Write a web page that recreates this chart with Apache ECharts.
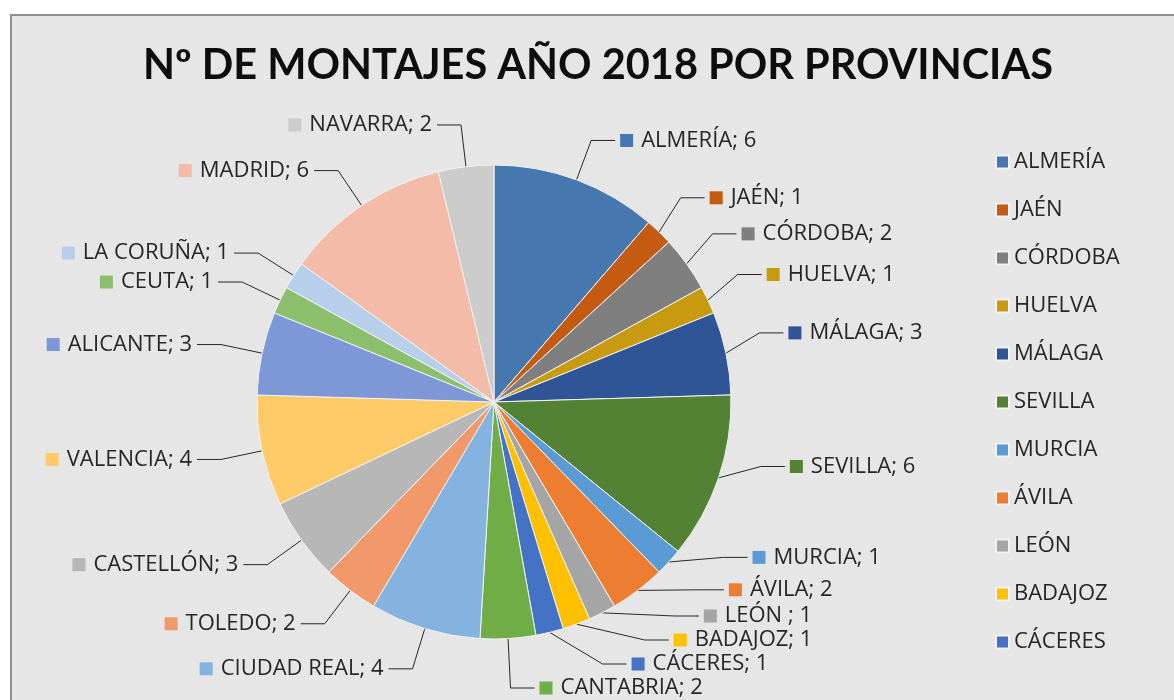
<!DOCTYPE html>
<html>
<head>
<meta charset="utf-8">
<script src="https://cdn.jsdelivr.net/npm/echarts@6/dist/echarts.min.js"></script>
<style>
    html, body { margin: 0; padding: 0; background: #fff; }
    #frame { position: absolute; left: 10px; top: 14px; width: 1164px; height: 686px;
             background: #e6e6e6; border-top: 2px solid #8f8f8f; border-left: 2px solid #8f8f8f; box-sizing: border-box; }
    #main { position: absolute; left: 0; top: 0; width: 1174px; height: 700px; }
</style>
</head>
<body>
<div id="frame"></div>
<div id="main"></div>
<script>
// provincias, en el orden de las porciones (sentido horario desde arriba)
var provincias = ['ALMERÍA', 'JAÉN', 'CÓRDOBA', 'HUELVA', 'MÁLAGA', 'SEVILLA', 'MURCIA', 'ÁVILA',
    'LEÓN ', 'BADAJOZ', 'CÁCERES', 'CANTABRIA', 'CIUDAD REAL', 'TOLEDO', 'CASTELLÓN', 'VALENCIA',
    'ALICANTE', 'CEUTA', 'LA CORUÑA', 'MADRID', 'NAVARRA'];
var montajes = [6, 1, 2, 1, 3, 6, 1, 2, 1, 1, 1, 2, 4, 2, 3, 4, 3, 1, 1, 6, 2];
var colores = ['#4677ae', '#c55a11', '#7f7f7f', '#c89a10', '#2f5597', '#548235', '#5b9bd5', '#ed7d31',
    '#a5a5a5', '#ffc000', '#4472c4', '#70ad47', '#84b3e0', '#f1996b', '#b7b7b7', '#ffcb68',
    '#7e97d6', '#8cbf6c', '#b7cfea', '#f4bca8', '#cccccc'];
// la leyenda solo muestra las 11 primeras
var leyenda = ['ALMERÍA', 'JAÉN', 'CÓRDOBA', 'HUELVA', 'MÁLAGA', 'SEVILLA', 'MURCIA', 'ÁVILA',
    'LEÓN', 'BADAJOZ', 'CÁCERES'];

var fuente = 'Open Sans';

var datos = [];
for (var i = 0; i < provincias.length; i++) {
    datos.push({
        name: provincias[i].trim(),
        value: montajes[i],
        itemStyle: {color: colores[i]},
        label: {
            formatter: '{m|}{g|}' + provincias[i] + '; ' + montajes[i],
            rich: {
                m: {width: 13, height: 13, backgroundColor: colores[i]},
                g: {width: 8}
            }
        }
    });
}

var myChart = echarts.init(document.getElementById('main'));
var option = {
    backgroundColor: 'transparent',
    animation: false,
    title: {
        text: 'Nº DE MONTAJES AÑO 2018 POR PROVINCIAS',
        left: 593,
        top: 40,
        textAlign: 'center',
        textStyle: {fontFamily: 'Lato', fontWeight: 'bold', fontSize: 41.5, color: '#0d0d0d'}
    },
    legend: {
        orient: 'vertical',
        left: 990,
        top: 146,
        icon: 'rect',
        itemWidth: 13,
        itemHeight: 13,
        itemGap: 26,
        data: leyenda,
        textStyle: {fontFamily: fuente, fontSize: 22, color: '#262626'}
    },
    series: [{
        type: 'pie',
        center: [494, 402],
        radius: 237,
        startAngle: 90,
        clockwise: true,
        data: datos,
        itemStyle: {borderColor: '#f2f2f2', borderWidth: 1},
        label: {
            show: true,
            fontFamily: fuente,
            fontSize: 22,
            color: '#262626'
        },
        labelLine: {
            show: true,
            length: 42,
            length2: 24,
            lineStyle: {color: '#262626', width: 1}
        }
    }]
};
myChart.setOption(option);
</script>
</body>
</html>
